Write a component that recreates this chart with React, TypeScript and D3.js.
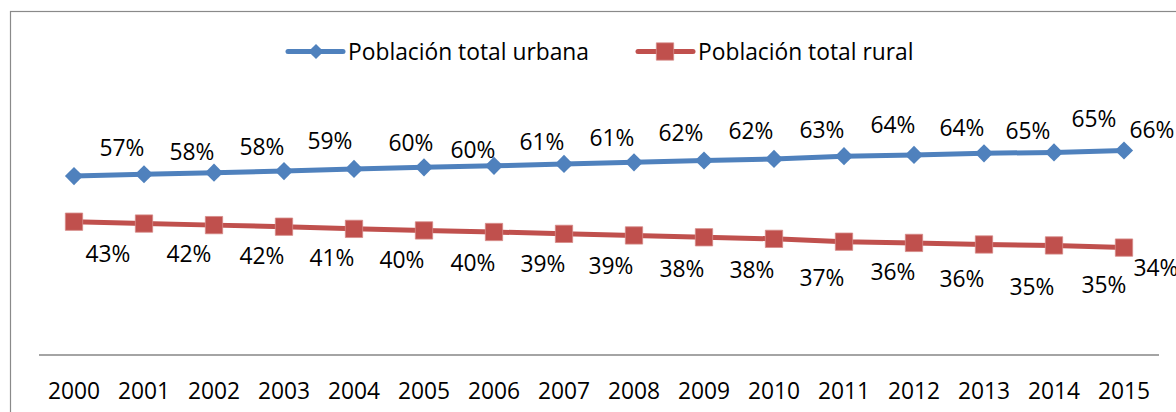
import React from "react";
import * as d3 from "d3";

const years = ["2000","2001","2002","2003","2004","2005","2006","2007","2008","2009","2010","2011","2012","2013","2014","2015"];
const urbana = [57.3, 57.9, 58.4, 58.9, 59.6, 60.1, 60.6, 61.2, 61.7, 62.3, 62.8, 63.7, 64.1, 64.6, 64.9, 65.5];
const rural = [42.7, 42.1, 41.6, 41.1, 40.4, 39.9, 39.4, 38.8, 38.3, 37.7, 37.2, 36.3, 35.9, 35.4, 35.1, 34.4];
const seriesNames = ["Población total urbana", "Población total rural"];

// label placement (layout offsets relative to each point, px)
const urbanLabelDx = [48, 48, 48, 46, 57, 49, 48, 48, 47, 47, 48, 49, 48, 44, 40, 28];
const urbanLabelDy = [-28, -22, -26, -30, -26, -18, -24, -26, -30, -30, -29, -31, -27, -23, -34, -21];
const ruralLabelDx = [34, 45, 48, 48, 48, 49, 49, 47, 48, 48, 48, 49, 48, 48, 50, 32];
const ruralLabelDy = [32, 30, 31, 31, 31, 32, 32, 32, 33, 32, 39, 30, 36, 42, 39, 20];

const W = 1176;
const H = 412;
const BLUE = "#4F81BD";
const RED = "#C0504D";
const FONT = "'Open Sans', 'Noto Sans', sans-serif";
const FS = 22.8;

export default function App() {
  const x = d3.scaleBand<string>().domain(years).range([39, 1159]).padding(0);
  const y = d3.scaleLinear().domain([0, 100]).range([355, 42.8]);
  const cx = (i: number) => (x(years[i]) as number) + x.bandwidth() / 2;
  const line = d3.line<number>().x((_, i) => cx(i)).y((v) => y(v));
  const diamond = d3.symbol().type(d3.symbolSquare).size(165)();
  const square = d3.symbol().type(d3.symbolSquare).size(300)();
  const diamondSmall = d3.symbol().type(d3.symbolSquare).size(115)();
  const fmt = (v: number) => Math.round(v) + "%";

  return (
    <svg width={W} height={H} style={{ position: "absolute", left: 0, top: 0, background: "#fff" }} fontFamily={FONT}>
      <rect x={10.5} y={11.5} width={W + 20} height={H + 20} fill="#fff" stroke="#8a8a8a" strokeWidth={1.2} />
      {/* legend */}
      <g>
        <line x1={288} x2={343} y1={51.5} y2={51.5} stroke={BLUE} strokeWidth={5} strokeLinecap="round" />
        <path d={diamondSmall!} transform="translate(316,51.5) rotate(45)" fill={BLUE} />
        <text x={348} y={51.5} dy="0.36em" fontSize={FS} fill="#000">{seriesNames[0]}</text>
        <line x1={638} x2={693} y1={51.5} y2={51.5} stroke={RED} strokeWidth={5} strokeLinecap="round" />
        <path d={square!} transform="translate(665,51.5)" fill={RED} stroke="#d58a88" strokeWidth={0.8} />
        <text x={698} y={51.5} dy="0.36em" fontSize={FS} fill="#000">{seriesNames[1]}</text>
      </g>
      {/* axis */}
      <line x1={39} x2={1159} y1={355} y2={355} stroke="#868686" strokeWidth={1.3} />
      {years.map((yr, i) => (
        <text key={yr} x={cx(i)} y={390.3} dy="0.36em" textAnchor="middle" fontSize={FS} fill="#000">{yr}</text>
      ))}
      {/* lines */}
      <path d={line(urbana)!} fill="none" stroke={BLUE} strokeWidth={5} strokeLinejoin="round" />
      <path d={line(rural)!} fill="none" stroke={RED} strokeWidth={5} strokeLinejoin="round" />
      {urbana.map((v, i) => (
        <path key={"u" + i} d={diamond!} transform={`translate(${cx(i)},${y(v)}) rotate(45)`} fill={BLUE} />
      ))}
      {rural.map((v, i) => (
        <path key={"r" + i} d={square!} transform={`translate(${cx(i)},${y(v)})`} fill={RED} stroke="#d58a88" strokeWidth={0.8} />
      ))}
      {urbana.map((v, i) => (
        <text key={"ul" + i} x={cx(i) + urbanLabelDx[i]} y={y(v) + urbanLabelDy[i]} dy="0.36em" textAnchor="middle" fontSize={FS} fill="#000">{fmt(v)}</text>
      ))}
      {rural.map((v, i) => (
        <text key={"rl" + i} x={cx(i) + ruralLabelDx[i]} y={y(v) + ruralLabelDy[i]} dy="0.36em" textAnchor="middle" fontSize={FS} fill="#000">{fmt(v)}</text>
      ))}
    </svg>
  );
}
